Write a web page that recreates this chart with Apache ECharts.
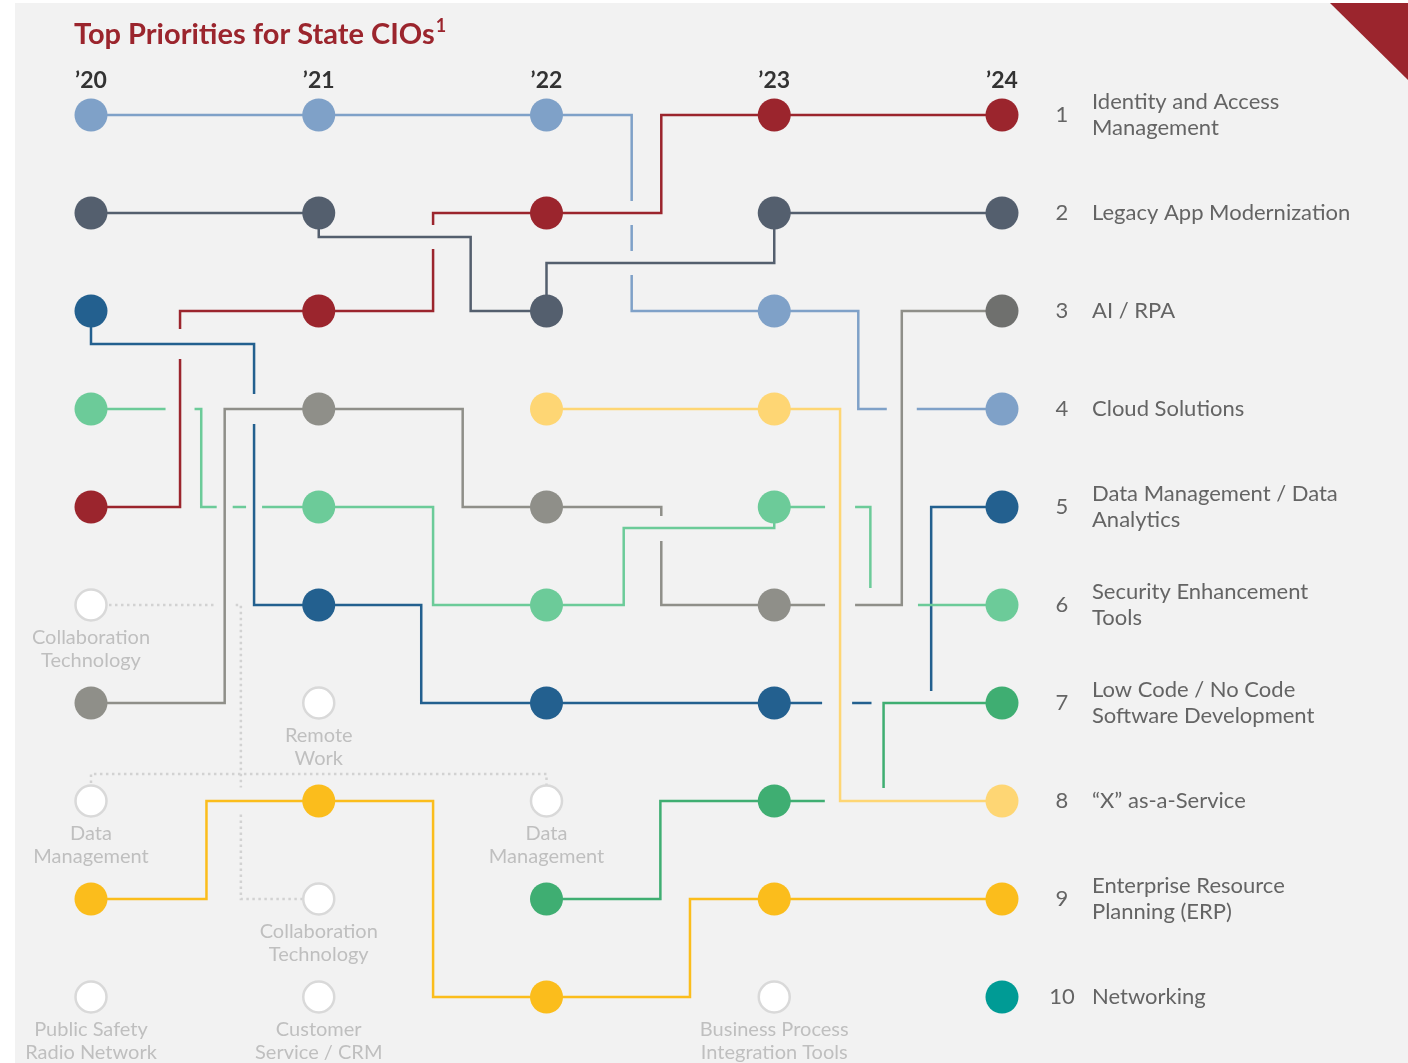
<!DOCTYPE html>
<html><head><meta charset="utf-8">
<script src="https://cdn.jsdelivr.net/npm/echarts@6/dist/echarts.min.js"></script>
<style>html,body{margin:0;padding:0;background:#fff}#c{width:1408px;height:1063px}</style>
</head><body><div id="c"></div>
<script>
// ---------- DATA ----------
const yearLabels = ['’20', '’21', '’22', '’23', '’24'];
const priorityNames = [
  'Identity and Access\nManagement',
  'Legacy App Modernization',
  'AI / RPA',
  'Cloud Solutions',
  'Data Management / Data\nAnalytics',
  'Security Enhancement\nTools',
  'Low Code / No Code\nSoftware Development',
  '“X” as-a-Service',
  'Enterprise Resource\nPlanning (ERP)',
  'Networking'
];
// rank per year ('20..'24); null = not in top 10
const identityRanks   = [5, 3, 2, 1, 1];
const legacyRanks     = [2, 2, 3, 2, 2];
const aiRanks         = [7, 4, 5, 6, 3];
const cloudRanks      = [1, 1, 1, 3, 4];
const dataRanks       = [3, 6, 7, 7, 5];
const securityRanks   = [4, 5, 6, 5, 6];
const lowCodeRanks    = [null, null, 9, 8, 7];
const xaasRanks       = [null, null, 4, 4, 8];
const erpRanks        = [9, 8, 10, 9, 9];
const networkingRanks = [null, null, null, null, 10];

// priorities that dropped off the list
const droppedNames = ['Collaboration\nTechnology', 'Data\nManagement', 'Public Safety\nRadio Network', 'Remote\nWork',
  'Collaboration\nTechnology', 'Customer\nService / CRM', 'Data\nManagement', 'Business Process\nIntegration Tools'];
const droppedYears = [0, 0, 0, 1, 1, 1, 2, 3];
const droppedRanks = [6, 8, 10, 7, 9, 10, 8, 10];
// dotted links between dropped items (from year, from rank, to year, to rank)
const linkFromYears = [0, 0];
const linkFromRanks = [6, 8];
const linkToYears = [1, 2];
const linkToRanks = [9, 8];

// ---------- ROUTING (layout only: step positions as fraction of interval, gaps in px) ----------
const routing = {
  identity: [{s: 0.391, gaps: [{at: [0.391, 3.337], h: 15}]}, {s: 0.502, gaps: [{at: [0.502, 2.245], h: 12}]}, {s: 0.504}, {}],
  legacy: [{}, {s1: 0, m: 2.245, s2: 0.667}, {s1: 0, m: 2.51, s2: 1}, {}],
  ai: [{s: 0.587}, {s: 0.632}, {s: 0.504, gaps: [{at: [0.504, 5.22], h: 12.5}]}, {s: 0.56, gaps: [{at: [0.289, 6], h: 15}]}],
  cloud: [{}, {}, {s: 0.374, gaps: [{at: [0.374, 2], h: 12}, {at: [0.374, 2.51], h: 12}]}, {s: 0.369, gaps: [{at: [0.56, 4], h: 15}]}],
  data: [{s1: 0, m: 3.337, s2: 0.716, gaps: [{at: [0.716, 4], h: 15}]}, {s: 0.45}, {},
         {s: 0.689, gaps: [{at: [0.276, 7], h: 15}], cuts: [[[0.427, 7], [0.689, 6.878]]]}],
  security: [{s: 0.484, gaps: [{at: [0.391, 4], h: 14.5}, {at: [0.587, 5], h: 8}, {at: [0.716, 5], h: 8}]}, {s: 0.502},
             {s1: 0.339, m: 5.214, s2: 1}, {s: 0.422, gaps: [{at: [0.289, 5], h: 15}], cuts: [[[0.422, 5.827], [0.631, 6]]]}],
  lowCode: [{}, {}, {s: 0.5}, {s: 0.48, cuts: [[[0.222, 8], [0.48, 7.867]]]}],
  xaas: [{}, {}, {}, {s: 0.289}],
  erp: [{s: 0.507}, {s: 0.502}, {s: 0.63}, {}],
  networking: [{}, {}, {}, {}],
  links: [{s: 0.658, gaps: [{at: [0.587, 6], h: 11}, {at: [0.658, 8], h: 13.5}]}, {s1: 0, m: 7.724, s2: 1}]
};

const seriesDefs = [
  {key: 'identity', ranks: identityRanks, color: '#9B252D'},
  {key: 'legacy', ranks: legacyRanks, color: '#545F6E'},
  {key: 'ai', ranks: aiRanks, color: '#8F8F89', lastColor: '#6F706E'},
  {key: 'cloud', ranks: cloudRanks, color: '#7FA1C8'},
  {key: 'data', ranks: dataRanks, color: '#23608F'},
  {key: 'security', ranks: securityRanks, color: '#6CCB99'},
  {key: 'lowCode', ranks: lowCodeRanks, color: '#3FAE72'},
  {key: 'xaas', ranks: xaasRanks, color: '#FED674'},
  {key: 'erp', ranks: erpRanks, color: '#FBBD1C'},
  {key: 'networking', ranks: networkingRanks, color: '#009B95'}
];

const FONT = 'Lato, "Open Sans", sans-serif';

// ---------- helpers ----------
function routePoints(a, ra, b, rb, sp) {
  const X = f => a + f * (b - a);
  if (ra === rb && sp.m == null) return [[a, ra], [b, rb]];
  const s1 = sp.s1 != null ? sp.s1 : sp.s;
  const s2 = sp.s2 != null ? sp.s2 : sp.s;
  const m = sp.m != null ? sp.m : rb;
  return [[a, ra], [X(s1), ra], [X(s1), m], [X(s2), m], [X(s2), rb], [b, rb]];
}
function locate(pts, cum, p) {
  let best = 0, bd = 1e9;
  for (let i = 0; i < pts.length - 1; i++) {
    const A = pts[i], B = pts[i + 1];
    const dx = B[0] - A[0], dy = B[1] - A[1], L2 = dx * dx + dy * dy;
    let t = L2 > 0 ? ((p[0] - A[0]) * dx + (p[1] - A[1]) * dy) / L2 : 0;
    t = Math.max(0, Math.min(1, t));
    const d = Math.hypot(p[0] - (A[0] + t * dx), p[1] - (A[1] + t * dy));
    if (d < bd - 1e-6) { bd = d; best = cum[i] + t * Math.sqrt(L2); }
  }
  return best;
}
function splitPath(pts, cum, cuts) {
  const total = cum[cum.length - 1];
  cuts.sort((x, y) => x[0] - y[0]);
  const keeps = []; let start = 0;
  cuts.forEach(c => { if (c[0] > start) keeps.push([start, c[0]]); start = Math.max(start, c[1]); });
  if (start < total) keeps.push([start, total]);
  const at = l => {
    for (let i = 0; i < pts.length - 1; i++) {
      if (l <= cum[i + 1] + 1e-9) {
        const seg = cum[i + 1] - cum[i];
        const t = seg > 0 ? (l - cum[i]) / seg : 0;
        return [pts[i][0] + t * (pts[i + 1][0] - pts[i][0]), pts[i][1] + t * (pts[i + 1][1] - pts[i][1])];
      }
    }
    return pts[pts.length - 1];
  };
  return keeps.filter(k => k[1] - k[0] > 0.5).map(k => {
    const poly = [at(k[0])];
    for (let j = 0; j < pts.length; j++) if (cum[j] > k[0] + 1e-6 && cum[j] < k[1] - 1e-6) poly.push(pts[j]);
    poly.push(at(k[1]));
    return poly;
  });
}
function connectorRender(color, specs, dashed) {
  return function (params, api) {
    const a = api.value(0), ra = api.value(1), b = api.value(2), rb = api.value(3);
    const sp = specs[api.value(4)] || {};
    const X = f => a + f * (b - a);
    const pts = routePoints(a, ra, b, rb, sp).map(p => api.coord(p));
    const cum = [0];
    for (let i = 1; i < pts.length; i++) cum.push(cum[i - 1] + Math.hypot(pts[i][0] - pts[i - 1][0], pts[i][1] - pts[i - 1][1]));
    const cuts = [];
    (sp.gaps || []).forEach(g => {
      const L = locate(pts, cum, api.coord([X(g.at[0]), g.at[1]]));
      cuts.push([L - g.h, L + g.h]);
    });
    (sp.cuts || []).forEach(c => {
      const L0 = locate(pts, cum, api.coord([X(c[0][0]), c[0][1]]));
      const L1 = locate(pts, cum, api.coord([X(c[1][0]), c[1][1]]));
      cuts.push([Math.min(L0, L1), Math.max(L0, L1)]);
    });
    const polys = splitPath(pts, cum, cuts);
    return {
      type: 'group',
      children: polys.map(p => ({
        type: 'polyline', shape: {points: p},
        style: {stroke: color, lineWidth: 2.5, fill: null, lineDash: dashed ? [2.5, 3.5] : null}
      }))
    };
  };
}

// ---------- series ----------
const series = [];
seriesDefs.forEach(d => {
  const data = [];
  for (let i = 0; i < d.ranks.length - 1; i++) {
    if (d.ranks[i] != null && d.ranks[i + 1] != null) data.push([i, d.ranks[i], i + 1, d.ranks[i + 1], i]);
  }
  if (data.length) series.push({
    type: 'custom', name: d.key + '-lines', data: data, silent: true, z: 2,
    encode: {x: [0, 2], y: [1, 3]},
    renderItem: connectorRender(d.color, routing[d.key], false)
  });
});
// dotted links for dropped items
series.push({
  type: 'custom', name: 'links', silent: true, z: 1,
  data: linkFromYears.map((y, i) => [y, linkFromRanks[i], linkToYears[i], linkToRanks[i], i]),
  encode: {x: [0, 2], y: [1, 3]},
  renderItem: connectorRender('#D2D2D2', routing.links, true)
});
// circles
seriesDefs.forEach(d => {
  const data = [];
  d.ranks.forEach((r, i) => {
    if (r == null) return;
    const item = {value: [i, r]};
    if (i === d.ranks.length - 1 && d.lastColor) item.itemStyle = {color: d.lastColor};
    data.push(item);
  });
  series.push({
    type: 'scatter', name: d.key, data: data, symbol: 'circle', symbolSize: 33, z: 5, silent: true,
    itemStyle: {color: d.color, opacity: 1}
  });
});
// dropped (hollow) circles
series.push({
  type: 'scatter', name: 'dropped', symbol: 'circle', symbolSize: 31, z: 5, silent: true,
  data: droppedYears.map((y, i) => ({value: [y, droppedRanks[i]], name: droppedNames[i]})),
  itemStyle: {color: '#FFFFFF', borderColor: '#D9D9D9', borderWidth: 2.5, opacity: 1},
  label: {
    show: true, position: 'bottom', distance: 4, formatter: p => p.name,
    fontFamily: FONT, fontSize: 20, lineHeight: 23, color: '#BFBFBF', align: 'center'
  }
});
// right-side rank numbers & names
series.push({
  type: 'scatter', name: 'rankNumbers', symbolSize: 0, z: 6, silent: true,
  data: seriesDefs.map(d => [4, d.ranks[4]]),
  label: {show: true, position: 'inside', offset: [60, 0], align: 'center', verticalAlign: 'middle',
    formatter: p => String(p.value[1]), fontFamily: FONT, fontSize: 22, color: '#404040'}
});
series.push({
  type: 'scatter', name: 'rankNames', symbolSize: 0, z: 6, silent: true,
  data: seriesDefs.map((d, i) => ({value: [4, d.ranks[4]], name: priorityNames[i]})),
  label: {show: true, position: 'inside', offset: [90, 0], align: 'left', verticalAlign: 'middle',
    formatter: p => p.name, fontFamily: FONT, fontSize: 22, lineHeight: 26, color: '#404040'}
});

const chart = echarts.init(document.getElementById('c'));
chart.setOption({
  animation: false,
  backgroundColor: '#F2F2F2',
  title: {
    text: '{t|Top Priorities for State CIOs}{s|1}', left: 74, top: 17, padding: 0,
    textStyle: {rich: {
      t: {fontFamily: FONT, fontSize: 29, fontWeight: 'bold', color: '#9B252D', lineHeight: 36},
      s: {fontFamily: FONT, fontSize: 18, fontWeight: 'bold', color: '#9B252D', verticalAlign: 'top', lineHeight: 18, padding: [0, 0, 0, 1]}
    }}
  },
  grid: {left: 91, top: 115, width: 911, height: 882, outerBoundsMode: 'none'},
  xAxis: {
    type: 'value', position: 'top', min: 0, max: 4, interval: 1,
    axisLine: {show: false}, axisTick: {show: false}, splitLine: {show: false},
    axisLabel: {formatter: v => yearLabels[v], fontFamily: FONT, fontSize: 23, fontWeight: 'bold', color: '#333333', margin: 23}
  },
  yAxis: {type: 'value', min: 1, max: 10, inverse: true, show: false},
  graphic: [
    {type: 'rect', left: 0, top: 0, shape: {width: 15, height: 1063}, style: {fill: '#FFFFFF'}, z: 100, silent: true},
    {type: 'rect', left: 0, top: 0, shape: {width: 1408, height: 3}, style: {fill: '#FFFFFF'}, z: 100, silent: true},
    {type: 'polygon', shape: {points: [[1330, 3], [1408, 3], [1408, 80]]}, style: {fill: '#9B252D'}, z: 100, silent: true}
  ],
  series: series
});
</script>
</body></html>
